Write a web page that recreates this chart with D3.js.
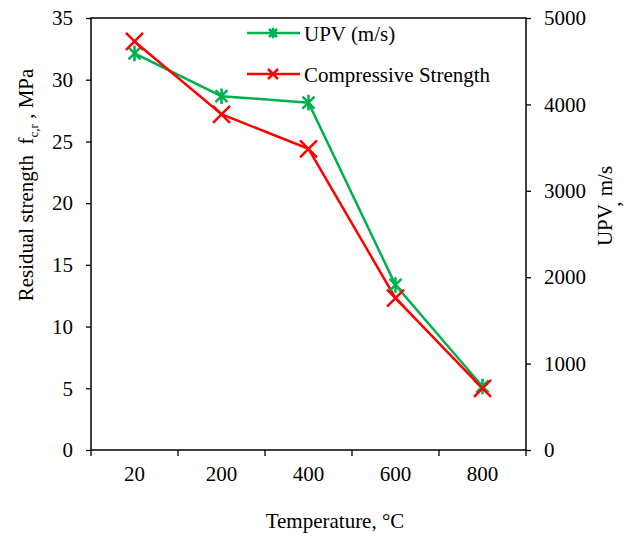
<!DOCTYPE html>
<html>
<head>
<meta charset="utf-8">
<script src="https://cdn.jsdelivr.net/npm/d3@7"></script>
<style>
  body { margin: 0; background: #fff; }
  svg text { font-family: "Liberation Serif", "Times New Roman", serif; fill: #000; }
</style>
</head>
<body>
<svg id="chart" width="627" height="538"></svg>
<script>
// data
const temps = ["20", "200", "400", "600", "800"];
const upv = [4590, 4095, 4020, 1910, 735];          // m/s, right axis
const strength = [33.1, 27.2, 24.4, 12.3, 5.0];     // MPa, left axis
const leftTicks = [0, 5, 10, 15, 20, 25, 30, 35];
const rightTicks = [0, 1000, 2000, 3000, 4000, 5000];

const svg = d3.select("#chart");
const margin = { top: 18, right: 101, bottom: 88, left: 91 };
const width = 627 - margin.left - margin.right;
const height = 538 - margin.top - margin.bottom;

const g = svg.append("g")
  .attr("transform", "translate(" + margin.left + "," + margin.top + ")");

const x = d3.scaleBand().domain(temps).range([0, width]).padding(0);
const yL = d3.scaleLinear().domain([0, 35]).range([height, 0]);
const yR = d3.scaleLinear().domain([0, 5000]).range([height, 0]);

const fs = "21px";
const serif = "'Liberation Serif', 'Times New Roman', serif";

// left axis
const axL = g.append("g")
  .call(d3.axisLeft(yL).tickValues(leftTicks).tickSize(5).tickSizeOuter(0).tickPadding(13));
// right axis
const axR = g.append("g")
  .attr("transform", "translate(" + width + ",0)")
  .call(d3.axisRight(yR).tickValues(rightTicks).tickFormat(d3.format("d")).tickSize(5).tickSizeOuter(0).tickPadding(13));
// bottom axis: labels at band centres
const axB = g.append("g")
  .attr("transform", "translate(0," + height + ")")
  .call(d3.axisBottom(x).tickSize(0).tickPadding(16));

[axL, axR, axB].forEach(a => {
  a.attr("font-family", serif).attr("font-size", 21);
  a.selectAll("text").style("font-family", serif).style("font-size", fs);
  a.selectAll("line").attr("stroke", "#000").attr("stroke-width", 1.3);
  a.select(".domain").remove();
});

// x ticks at band boundaries
const bounds = temps.map(t => x(t)).concat([x(temps[temps.length - 1]) + x.bandwidth()]);
g.append("g").selectAll("line")
  .data(bounds)
  .enter()
  .append("line")
  .attr("x1", d => d).attr("x2", d => d)
  .attr("y1", height).attr("y2", height + 6)
  .attr("stroke", "#000").attr("stroke-width", 1.3);

// frame
g.append("rect")
  .attr("width", width).attr("height", height)
  .attr("fill", "none").attr("stroke", "#000").attr("stroke-width", 1.5);

const cx = t => x(t) + x.bandwidth() / 2;
const green = "#00b050", red = "#ff0000";

function star(sel, px, py, r, color, sw) {
  sel.append("path")
    .attr("d", `M${px - r},${py - r}L${px + r},${py + r}M${px - r},${py + r}L${px + r},${py - r}M${px},${py - r * 1.3}L${px},${py + r * 1.3}`)
    .attr("stroke", color).attr("stroke-width", sw).attr("fill", "none");
}
function cross(sel, px, py, r, color, sw) {
  sel.append("path")
    .attr("d", `M${px - r},${py - r}L${px + r},${py + r}M${px - r},${py + r}L${px + r},${py - r}`)
    .attr("stroke", color).attr("stroke-width", sw).attr("fill", "none");
}

// UPV line
const upvLine = d3.line().x((d, i) => cx(temps[i])).y(d => yR(d));
g.append("path").datum(upv)
  .attr("d", upvLine).attr("fill", "none").attr("stroke", green).attr("stroke-width", 2.5);

// compressive strength line
const strLine = d3.line().x((d, i) => cx(temps[i])).y(d => yL(d));
g.append("path").datum(strength)
  .attr("d", strLine).attr("fill", "none").attr("stroke", red).attr("stroke-width", 2.5);

upv.forEach((v, i) => star(g, cx(temps[i]), yR(v), 6, green, 2.5));
strength.forEach((v, i) => cross(g, cx(temps[i]), yL(v), 8.5, red, 2.5));

// legend
const leg = svg.append("g");
const legItems = [
  { label: "UPV (m/s)", color: green, y: 33, mark: star, r: 4 },
  { label: "Compressive Strength", color: red, y: 74, mark: cross, r: 5 }
];
legItems.forEach(it => {
  leg.append("line").attr("x1", 247).attr("x2", 300).attr("y1", it.y).attr("y2", it.y)
    .attr("stroke", it.color).attr("stroke-width", 2.5);
  it.mark(leg, 273, it.y, it.r, it.color, 2.5);
  leg.append("text").attr("x", 304).attr("y", it.y + 8).style("font-size", fs).text(it.label);
});

// axis titles
const tl = svg.append("text")
  .attr("transform", "translate(33,185) rotate(-90)")
  .attr("text-anchor", "middle")
  .style("font-size", fs);
tl.append("tspan").text("Residual strength\u00a0\u00a0f");
tl.append("tspan").attr("dy", 5).style("font-size", "13px").text("c,r");
tl.append("tspan").attr("dy", -5).text("\u00a0, MPa");

const tr = svg.append("text")
  .attr("transform", "translate(612,206) rotate(-90)")
  .attr("text-anchor", "middle")
  .style("font-size", fs);
tr.append("tspan").text("UPV");
tr.append("tspan").attr("dy", 8).text(",");
tr.append("tspan").attr("dy", -8).text(" m/s");

svg.append("text")
  .attr("x", 335).attr("y", 528)
  .attr("text-anchor", "middle")
  .style("font-size", fs)
  .text("Temperature, °C");
</script>
</body>
</html>
